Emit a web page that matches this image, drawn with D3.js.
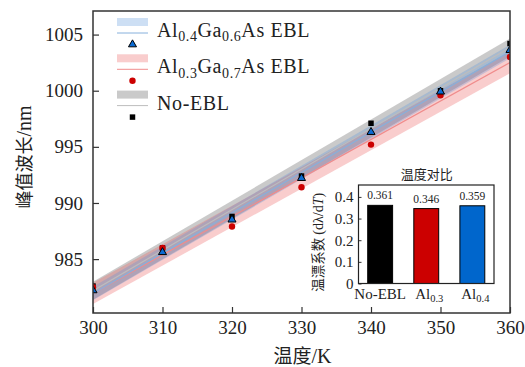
<!DOCTYPE html>
<html>
<head>
<meta charset="utf-8">
<script src="https://cdn.jsdelivr.net/npm/d3@7"></script>
<style>
  body { margin: 0; background: #fff; }
  svg { display: block; }
</style>
</head>
<body>
<div id="chart"></div>
<script>
// data
const temps = [300, 310, 320, 330, 340, 350, 360];
const noEbl = [982.6, 986.0, 988.8, 992.4, 997.1, 1000.0, 1004.2];
const al03 = [982.5, 986.0, 987.9, 991.4, 995.2, 999.6, 1003.0];
const al04 = [982.3, 985.7, 988.6, 992.3, 996.4, 1000.0, 1003.7];
// half width of the shaded fit band, nm
const bandHalf = { noEbl: 0.8, al03: 0.95, al04: 0.6 };

const xTicks = [300, 310, 320, 330, 340, 350, 360];
const yTicks = [985, 990, 995, 1000, 1005];

const insetCats = ["No-EBL", "Al0.3", "Al0.4"];
const insetVals = [0.361, 0.346, 0.359];
const insetTicks = [0, 0.1, 0.2, 0.3, 0.4];

const serif = "'Liberation Serif', 'Times New Roman', serif";
const cjk = "'Noto Sans CJK SC', sans-serif";

const width = 525;
const height = 367;
const margin = ({ left: 93, right: 15, top: 11, bottom: 54 });
const chartWidth = width - margin.left - margin.right;
const chartHeight = height - margin.top - margin.bottom;

const xScale = d3.scaleLinear().domain([300, 360]).range([0, chartWidth]);
const yScale = d3.scaleLinear().domain([980.2, 1007.1]).range([chartHeight, 0]);

const series = [
  { key: "noEbl", values: noEbl, band: "rgba(128,128,128,0.42)", line: "#bdbdbd" },
  { key: "al03", values: al03, band: "rgba(235,90,90,0.30)", line: "#f08c8c" },
  { key: "al04", values: al04, band: "rgba(90,150,220,0.30)", line: "#86b0dc" }
];

let linFit = function (xs, ys) {
  const mx = d3.mean(xs), my = d3.mean(ys);
  let sxy = 0, sxx = 0;
  xs.forEach((x, i) => { sxy += (x - mx) * (ys[i] - my); sxx += (x - mx) ** 2; });
  const slope = sxy / sxx;
  return x => my + slope * (x - mx);
};

// writes text made of normal / subscript / italic pieces
let richText = function (sel, parts, size) {
  parts.forEach(p => {
    const t = sel.append("tspan").text(p.t);
    if (p.sub) {
      t.attr("font-size", size * 0.7).attr("dy", size * 0.22);
    } else if (p.after) {
      t.attr("dy", -size * 0.22);
    }
    if (p.it) t.attr("font-style", "italic");
    if (p.cjk) t.attr("font-family", cjk).attr("font-size", p.size || size);
  });
};

let subParts = function (s) {
  // "Al0.4Ga0.6As EBL" -> pieces with numeric subscripts
  const out = [];
  const re = /(\d\.\d)|([^\d]+)/g;
  let m, prevSub = false;
  while ((m = re.exec(s)) !== null) {
    if (m[1]) { out.push({ t: m[1], sub: true }); prevSub = true; }
    else { out.push({ t: m[2], after: prevSub }); prevSub = false; }
  }
  return out;
};

const svg = d3.select("#chart").append("svg")
  .attr("width", width).attr("height", height);

const g = svg.append("g")
  .attr("transform", `translate(${margin.left}, ${margin.top})`);

g.append("clipPath").attr("id", "clip")
  .append("rect").attr("width", chartWidth).attr("height", chartHeight);

const plot = g.append("g").attr("clip-path", "url(#clip)");

// fit bands
series.forEach(s => {
  const f = linFit(temps, s.values);
  s.fit = f;
  const area = d3.area()
    .x(d => xScale(d))
    .y0(d => yScale(f(d) - bandHalf[s.key]))
    .y1(d => yScale(f(d) + bandHalf[s.key]));
  plot.append("path").datum(xScale.domain())
    .attr("d", area).attr("fill", s.band);
});

series.forEach(s => {
  const line = d3.line().x(d => xScale(d)).y(d => yScale(s.fit(d)));
  plot.append("path").datum(xScale.domain())
    .attr("d", line).attr("fill", "none")
    .attr("stroke", s.line).attr("stroke-width", 1.2);
});

// points
const sq = d3.symbol().type(d3.symbolSquare).size(30);
const tri = d3.symbol().type(d3.symbolTriangle).size(28);

plot.selectAll(".sq").data(temps).enter().append("path")
  .attr("d", sq)
  .attr("transform", (d, i) => `translate(${xScale(d)}, ${yScale(noEbl[i])})`)
  .attr("fill", "#000");

plot.selectAll(".ci").data(temps).enter().append("circle")
  .attr("cx", d => xScale(d))
  .attr("cy", (d, i) => yScale(al03[i]))
  .attr("r", 3.2)
  .attr("fill", "#cc0000");

plot.selectAll(".tr").data(temps).enter().append("path")
  .attr("d", tri)
  .attr("transform", (d, i) => `translate(${xScale(d)}, ${yScale(al04[i]) + 1})`)
  .attr("fill", "#0b6bd3").attr("stroke", "#000").attr("stroke-width", 1);

// axes
const xAxis = d3.axisBottom(xScale).tickValues(xTicks).tickFormat(d3.format("d"))
  .tickSize(-6).tickPadding(8);
const yAxis = d3.axisLeft(yScale).tickValues(yTicks).tickFormat(d3.format("d"))
  .tickSize(-6).tickPadding(10);

const gx = g.append("g").attr("transform", `translate(0, ${chartHeight})`).call(xAxis);
const gy = g.append("g").call(yAxis);
[gx, gy].forEach(a => {
  a.attr("font-family", serif).attr("font-size", 19);
  a.select(".domain").remove();
  a.selectAll("line").attr("stroke", "#333").attr("stroke-width", 1.2);
  a.selectAll("text").style("font-family", serif).attr("fill", "#222");
});

g.append("rect")
  .attr("width", chartWidth).attr("height", chartHeight)
  .attr("fill", "none").attr("stroke", "#333").attr("stroke-width", 1.5);

// axis titles
svg.append("text")
  .attr("transform", `translate(${margin.left + chartWidth / 2 + 1}, 363)`)
  .attr("text-anchor", "middle").attr("font-family", serif).attr("font-size", 20).attr("fill", "#222")
  .call(t => richText(t, [{ t: "温度", cjk: true, size: 19 }, { t: "/K" }], 20));

svg.append("text")
  .attr("transform", "translate(31, 157) rotate(-90)")
  .attr("text-anchor", "middle").attr("font-family", serif).attr("font-size", 20).attr("fill", "#222")
  .call(t => richText(t, [{ t: "峰值波长", cjk: true, size: 18 }, { t: "/nm" }], 20));

// legend
const legend = svg.append("g");
const legendLabels = ["Al0.4Ga0.6As EBL", "Al0.3Ga0.7As EBL", "No-EBL"];
const legendSeries = [series[2], series[1], series[0]];
legendLabels.forEach((lab, i) => {
  const y0 = 18 + i * 36.3;
  const s = legendSeries[i];
  legend.append("rect").attr("x", 117).attr("y", y0).attr("width", 31).attr("height", 8)
    .attr("fill", s.band);
  legend.append("line").attr("x1", 117).attr("x2", 148).attr("y1", y0 + 15).attr("y2", y0 + 15)
    .attr("stroke", s.line).attr("stroke-width", 1);
  const my = y0 + 26.5;
  if (i === 0) {
    legend.append("path").attr("d", tri).attr("transform", `translate(132.5, ${my})`)
      .attr("fill", "#0b6bd3").attr("stroke", "#000").attr("stroke-width", 1);
  } else if (i === 1) {
    legend.append("circle").attr("cx", 132.5).attr("cy", my).attr("r", 3.2).attr("fill", "#cc0000");
  } else {
    legend.append("path").attr("d", sq).attr("transform", `translate(132.5, ${my})`).attr("fill", "#000");
  }
  legend.append("text")
    .attr("x", 157).attr("y", y0 + 19)
    .attr("font-family", serif).attr("font-size", 20).attr("fill", "#222")
    .attr("letter-spacing", 0.6)
    .call(t => richText(t, subParts(lab), 20));
});

// inset bar chart
const inset = ({ left: 358.5, top: 185, width: 135.5, height: 98.5 });
const ig = svg.append("g").attr("transform", `translate(${inset.left}, ${inset.top})`);

const xInset = d3.scaleBand().domain(insetCats).range([0, inset.width])
  .paddingInner(0.46).paddingOuter(0.2);
const yInset = d3.scaleLinear().domain([0, 0.455]).range([inset.height, 0]);
const insetColors = ["#000000", "#cc0000", "#0066cc"];

ig.append("rect").attr("width", inset.width).attr("height", inset.height).attr("fill", "#fff");

ig.selectAll(".bar").data(insetVals).enter().append("rect")
  .attr("x", (d, i) => xInset(insetCats[i]))
  .attr("y", d => yInset(d))
  .attr("width", xInset.bandwidth())
  .attr("height", d => inset.height - yInset(d))
  .attr("fill", (d, i) => insetColors[i])
  .attr("stroke", "#000").attr("stroke-width", 1);

ig.selectAll(".val").data(insetVals).enter().append("text")
  .attr("x", (d, i) => xInset(insetCats[i]) + xInset.bandwidth() / 2)
  .attr("y", d => yInset(d) - 6)
  .attr("text-anchor", "middle").attr("font-family", serif).attr("font-size", 11.5).attr("fill", "#222")
  .text(d => d3.format(".3f")(d));

const iyAxis = d3.axisLeft(yInset).tickValues(insetTicks)
  .tickFormat(d => d === 0 ? "0" : d3.format(".1f")(d))
  .tickSize(-3).tickPadding(5);
const giy = ig.append("g").call(iyAxis);
giy.attr("font-family", serif).attr("font-size", 15);
giy.select(".domain").remove();
giy.selectAll("line").attr("stroke", "#333");
giy.selectAll("text").style("font-family", serif).attr("fill", "#222");

ig.append("rect").attr("width", inset.width).attr("height", inset.height)
  .attr("fill", "none").attr("stroke", "#222").attr("stroke-width", 1.2);

insetCats.forEach(c => {
  ig.append("text")
    .attr("x", xInset(c) + xInset.bandwidth() / 2 + (c === "No-EBL" ? 0 : 3))
    .attr("y", inset.height + 15)
    .attr("text-anchor", "middle").attr("font-family", serif).attr("font-size", 15).attr("fill", "#222")
    .call(t => richText(t, subParts(c), 15));
});

ig.append("text")
  .attr("x", inset.width / 2 + 0.5).attr("y", -6)
  .attr("text-anchor", "middle").attr("font-family", cjk).attr("font-size", 13).attr("fill", "#222")
  .text("温度对比");

ig.append("text")
  .attr("transform", `translate(-36, ${inset.height / 2 + 8}) rotate(-90)`)
  .attr("text-anchor", "middle").attr("font-family", serif).attr("font-size", 14).attr("fill", "#222")
  .call(t => richText(t, [{ t: "温漂系数 ", cjk: true, size: 13.5 }, { t: "(dλ/d" }, { t: "T", it: true }, { t: ")" }], 14));
</script>
</body>
</html>
